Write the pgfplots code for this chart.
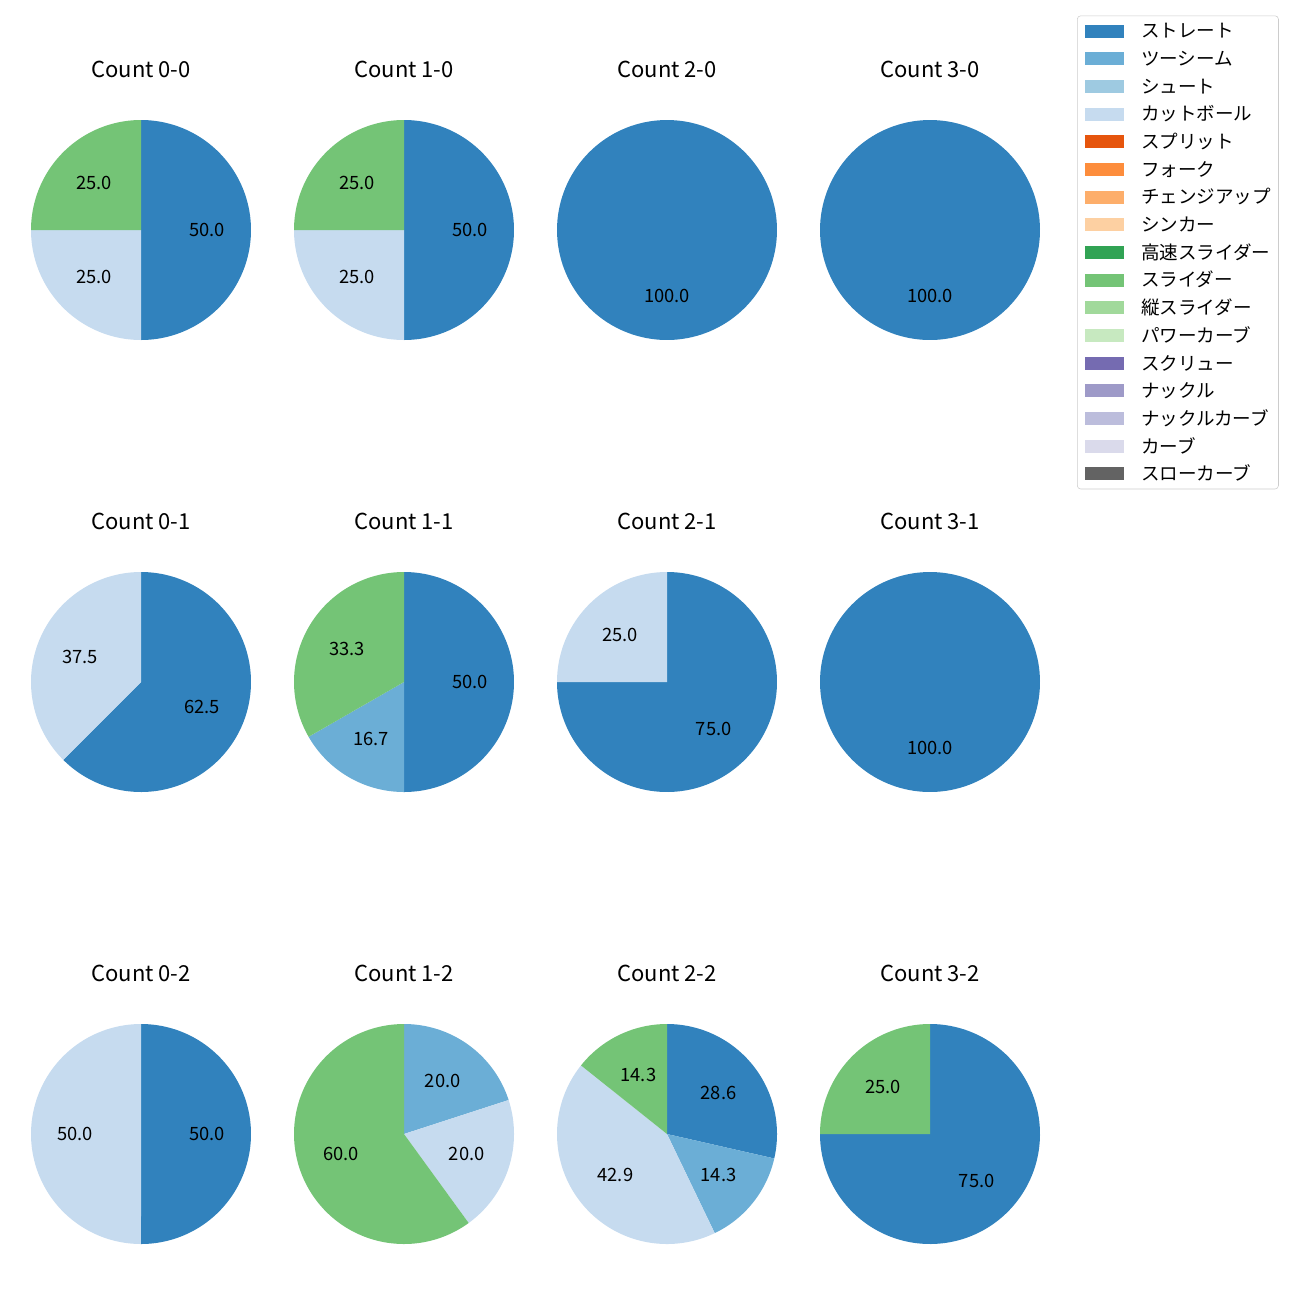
\documentclass[border=0pt]{standalone}
\usepackage{fontspec}
\setmainfont{Noto Sans CJK JP}
\usepackage{pgfplots}
\usepackage{pgfplotstable}
\pgfplotsset{compat=1.18}
\definecolor{c1}{HTML}{3182BD}
\definecolor{c2}{HTML}{6BAED6}
\definecolor{c3}{HTML}{9ECAE1}
\definecolor{c4}{HTML}{C6DBEF}
\definecolor{c5}{HTML}{E6550D}
\definecolor{c6}{HTML}{FD8D3C}
\definecolor{c7}{HTML}{FDAE6B}
\definecolor{c8}{HTML}{FDD0A2}
\definecolor{c9}{HTML}{31A354}
\definecolor{c10}{HTML}{74C476}
\definecolor{c11}{HTML}{A1D99B}
\definecolor{c12}{HTML}{C7E9C0}
\definecolor{c13}{HTML}{756BB1}
\definecolor{c14}{HTML}{9E9AC8}
\definecolor{c15}{HTML}{BCBDDC}
\definecolor{c16}{HTML}{DADAEB}
\definecolor{c17}{HTML}{636363}

\newcommand\lblfont{\fontsize{13.25}{15}\selectfont}
\newcommand\titlefont{\fontsize{15.9}{18}\selectfont}
\newcommand\legfont{\fontsize{13.4}{15}\selectfont}

% Count B-S : percentage and colour of each slice (clockwise from top)
\pgfplotstableread{
v c
50 c1
25 c4
25 c10
}\pAA
\pgfplotstableread{
v c
50 c1
25 c4
25 c10
}\pBA
\pgfplotstableread{
v c
100 c1
}\pCA
\pgfplotstableread{
v c
100 c1
}\pDA
\pgfplotstableread{
v c
62.5 c1
37.5 c4
}\pAB
\pgfplotstableread{
v c
50 c1
16.7 c2
33.3 c10
}\pBB
\pgfplotstableread{
v c
75 c1
25 c4
}\pCB
\pgfplotstableread{
v c
100 c1
}\pDB
\pgfplotstableread{
v c
50 c1
50 c4
}\pAC
\pgfplotstableread{
v c
20 c2
20 c4
60 c10
}\pBC
\pgfplotstableread{
v c
28.6 c1
14.3 c2
42.9 c4
14.3 c10
}\pCC
\pgfplotstableread{
v c
75 c1
25 c10
}\pDC

\newcommand\drawpie[1]{%
  \pgfplotstablegetrowsof{#1}%
  \pgfmathtruncatemacro\nrows{\pgfplotsretval-1}%
  \def\tot{0}%
  \pgfplotsforeachungrouped \ii in {0,...,\nrows}{%
    \pgfplotstablegetelem{\ii}{v}\of{#1}%
    \pgfmathsetmacro\tot{\tot+\pgfplotsretval}}%
  \def\cum{0}%
  \pgfplotsforeachungrouped \ii in {0,...,\nrows}{%
    \pgfplotstablegetelem{\ii}{v}\of{#1}\let\val\pgfplotsretval
    \pgfplotstablegetelem{\ii}{c}\of{#1}\let\col\pgfplotsretval
    \pgfmathsetmacro\aS{90-(\cum/\tot)*360}%
    \pgfmathsetmacro\cum{\cum+\val}%
    \pgfmathsetmacro\aE{90-(\cum/\tot)*360}%
    \pgfmathsetmacro\aM{(\aS+\aE)/2}%
    \pgfmathsetmacro\lx{0.6*cos(\aM)}%
    \pgfmathsetmacro\ly{0.6*sin(\aM)}%
    \edef\temp{\noexpand\addplot[fill=\col, draw=none, domain=\aE:\aS, samples=150] ({cos(x)},{sin(x)}) -- (axis cs:0,0) -- cycle;
      \noexpand\node[font=\noexpand\lblfont, inner sep=0pt] at (axis cs:\lx,\ly) {\noexpand\pgfmathprintnumber[fixed,fixed zerofill,precision=1,assume math mode=true]{\val}};}%
    \temp
  }%
}

\pgfplotsset{pie/.style={hide axis, scale only axis, width=2.2in, height=2.2in,
  xmin=-1, xmax=1, ymin=-1, ymax=1, clip=false, anchor=center}}

\newcommand\pieplot[4]{%
  \begin{axis}[pie, at={(#1in,-#2in)}]
    \drawpie{#3}
    \node[font=\titlefont, inner sep=0pt] at (axis cs:0,1.464) {#4};
  \end{axis}}

\begin{document}
\begin{tikzpicture}
\useasboundingbox (0,0) rectangle (13in,-13in);
\pieplot{1.41}{2.30}{\pAA}{Count 0-0}
\pieplot{4.04}{2.30}{\pBA}{Count 1-0}
\pieplot{6.67}{2.30}{\pCA}{Count 2-0}
\pieplot{9.30}{2.30}{\pDA}{Count 3-0}
\pieplot{1.41}{6.82}{\pAB}{Count 0-1}
\pieplot{4.04}{6.82}{\pBB}{Count 1-1}
\pieplot{6.67}{6.82}{\pCB}{Count 2-1}
\pieplot{9.30}{6.82}{\pDB}{Count 3-1}
\pieplot{1.41}{11.34}{\pAC}{Count 0-2}
\pieplot{4.04}{11.34}{\pBC}{Count 1-2}
\pieplot{6.67}{11.34}{\pCC}{Count 2-2}
\pieplot{9.30}{11.34}{\pDC}{Count 3-2}

\begin{axis}[hide axis, scale only axis, width=1pt, height=1pt,
  xmin=0, xmax=1, ymin=0, ymax=1, at={(10.77in,-0.155in)}, anchor=north west,
  legend cell align=left,
  legend style={at={(0,1)}, anchor=north west, draw=black!20, rounded corners=2.5pt,
    fill=white, font=\legfont, inner xsep=5.5pt, inner ysep=4.5pt, row sep=7pt, column sep=12.6pt,
    nodes={inner sep=0pt, text height=11.5pt, text depth=1.5pt}},
  legend image code/.code={\fill[#1, draw=none, sharp corners] (0pt,-4.7pt) rectangle (28pt,4.7pt);}]
\addlegendimage{fill=c1}\addlegendentry{ストレート}
\addlegendimage{fill=c2}\addlegendentry{ツーシーム}
\addlegendimage{fill=c3}\addlegendentry{シュート}
\addlegendimage{fill=c4}\addlegendentry{カットボール}
\addlegendimage{fill=c5}\addlegendentry{スプリット}
\addlegendimage{fill=c6}\addlegendentry{フォーク}
\addlegendimage{fill=c7}\addlegendentry{チェンジアップ}
\addlegendimage{fill=c8}\addlegendentry{シンカー}
\addlegendimage{fill=c9}\addlegendentry{高速スライダー}
\addlegendimage{fill=c10}\addlegendentry{スライダー}
\addlegendimage{fill=c11}\addlegendentry{縦スライダー}
\addlegendimage{fill=c12}\addlegendentry{パワーカーブ}
\addlegendimage{fill=c13}\addlegendentry{スクリュー}
\addlegendimage{fill=c14}\addlegendentry{ナックル}
\addlegendimage{fill=c15}\addlegendentry{ナックルカーブ}
\addlegendimage{fill=c16}\addlegendentry{カーブ}
\addlegendimage{fill=c17}\addlegendentry{スローカーブ}
\end{axis}
\end{tikzpicture}
\end{document}
